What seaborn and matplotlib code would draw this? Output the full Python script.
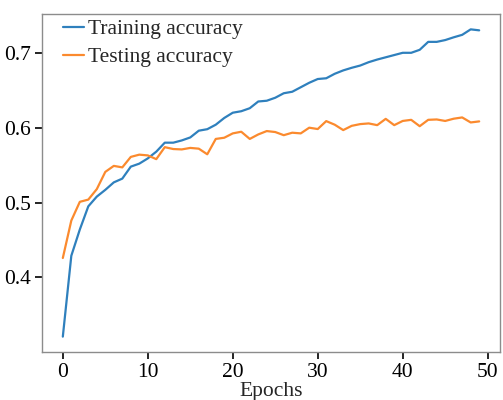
import numpy as np
import pandas as pd
import matplotlib
matplotlib.use("Agg")
import matplotlib.pyplot as plt
import seaborn as sns

epochs = list(range(50))
train_acc = [0.321, 0.429, 0.464, 0.495, 0.508, 0.517, 0.527, 0.532, 0.548, 0.552,
             0.559, 0.568, 0.580, 0.580, 0.583, 0.587, 0.596, 0.598, 0.604, 0.613,
             0.620, 0.622, 0.626, 0.635, 0.636, 0.640, 0.646, 0.648, 0.654, 0.660,
             0.665, 0.666, 0.672, 0.6765, 0.680, 0.683, 0.6875, 0.691, 0.694, 0.697,
             0.700, 0.700, 0.704, 0.7146, 0.7146, 0.717, 0.7207, 0.724, 0.7313, 0.730]
test_acc = [0.426, 0.476, 0.501, 0.504, 0.518, 0.541, 0.549, 0.547, 0.561, 0.564,
            0.563, 0.558, 0.574, 0.5715, 0.571, 0.573, 0.572, 0.5645, 0.585, 0.5866,
            0.5924, 0.5946, 0.585, 0.591, 0.5955, 0.5942, 0.590, 0.5933, 0.5924, 0.600,
            0.5982, 0.6088, 0.6040, 0.5968, 0.6025, 0.6048, 0.6057, 0.6034, 0.6118, 0.6034,
            0.609, 0.6105, 0.602, 0.6105, 0.611, 0.609, 0.612, 0.6137, 0.607, 0.6084]
series_names = ["Training accuracy", "Testing accuracy"]

df = pd.DataFrame({
    "Epochs": epochs * 2,
    "acc": train_acc + test_acc,
    "series": [series_names[0]] * 50 + [series_names[1]] * 50,
})

sns.set_theme(style="white")
plt.rcParams["font.family"] = ["Liberation Serif", "DejaVu Serif"]

fig = plt.figure(figsize=(5.03, 4.0), dpi=100)
ax = fig.add_axes([42 / 503, 1 - 352 / 400, (500 - 42) / 503, (352 - 14) / 400])

sns.lineplot(data=df, x="Epochs", y="acc", hue="series",
             palette=["#2f80bd", "#fb8a2e"], linewidth=1.6, ax=ax)

ax.set_xticks([0, 10, 20, 30, 40, 50])
ax.set_yticks([0.4, 0.5, 0.6, 0.7])
ax.set_yticklabels(["0.4", "0.5", "0.6", "0.7"])
ax.set_xlabel("Epochs", fontsize=15.5, labelpad=0)
ax.set_ylabel("")
ax.tick_params(axis="both", direction="out", length=5, width=1.2, color="black",
               labelsize=15.5, labelcolor="black", bottom=True, left=True, pad=3)
for s in ax.spines.values():
    s.set_color("#8c8c8c")
    s.set_linewidth(1.0)

leg = ax.legend(loc="upper left", bbox_to_anchor=(0.044, 0.988), frameon=False,
                fontsize=15.5, handlelength=0.95, handletextpad=0.2,
                borderaxespad=0.0, labelspacing=0.38, borderpad=0.05)

fig.savefig("out.png", dpi=100)
